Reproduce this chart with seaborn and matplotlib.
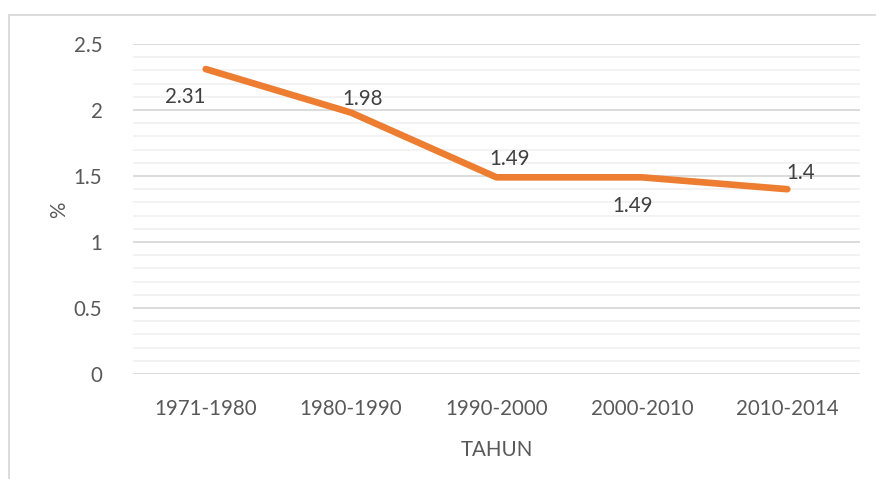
import matplotlib
matplotlib.use("Agg")
import matplotlib.pyplot as plt
import seaborn as sns
import pandas as pd
from matplotlib.patches import Rectangle
from matplotlib.ticker import MultipleLocator

categories = ["1971-1980", "1980-1990", "1990-2000", "2000-2010", "2010-2014"]
values = [2.31, 1.98, 1.49, 1.49, 1.4]
label_offsets = [(-14.5, -20), (8.5, 9.5), (9.5, 13.5), (-7, -21), (9.5, 12)]

df = pd.DataFrame({"TAHUN": categories, "pct": values})

sns.set_theme(style="white")
plt.rcParams["font.family"] = ["Lato", "DejaVu Sans"]
txt = "#595959"

fig = plt.figure(figsize=(8.76, 4.79), dpi=100)
ax = fig.add_axes([133/876, 1-374/479, (860-133)/876, (374-44)/479])

sns.lineplot(data=df, x="TAHUN", y="pct", ax=ax, color="#ED7D31",
             linewidth=4.8, sort=False, solid_capstyle="round", solid_joinstyle="round")

ax.set_xlim(-0.5, 4.5)
ax.set_ylim(0, 2.5)
ax.yaxis.set_major_locator(MultipleLocator(0.5))
ax.yaxis.set_minor_locator(MultipleLocator(0.1))
ax.set_yticks([0, 0.5, 1, 1.5, 2, 2.5])
ax.set_yticklabels(["0", "0.5", "1", "1.5", "2", "2.5"])
ax.grid(which="major", axis="y", color="#D9D9D9", linewidth=1.3, zorder=0)
ax.grid(which="minor", axis="y", color="#F2F2F2", linewidth=1.3, zorder=0)
ax.set_axisbelow(True)
for s in ax.spines.values():
    s.set_visible(False)
ax.tick_params(axis="both", which="both", length=0, labelsize=14.8, colors=txt)
ax.tick_params(axis="y", pad=22)
ax.tick_params(axis="x", pad=18)
ax.set_xlabel("TAHUN", fontsize=14.8, color=txt)
ax.set_ylabel("%", fontsize=14.8, color=txt)
ax.yaxis.set_label_coords((69-133)/727, 0.497)
ax.xaxis.set_label_coords(0.5, -(440-374)/330)

for i, (v, off) in enumerate(zip(values, label_offsets)):
    ax.annotate(f"{v:g}", (i, v), xytext=off, textcoords="offset points",
                ha="center", va="center", fontsize=14.8, color="#404040")

fig.patches.append(Rectangle((9/876, -0.1), 1.2, 1-15/479+0.1, transform=fig.transFigure,
                             fill=False, edgecolor="#D9D9D9", linewidth=1.3, zorder=-1))

fig.savefig("out.png", dpi=100)
